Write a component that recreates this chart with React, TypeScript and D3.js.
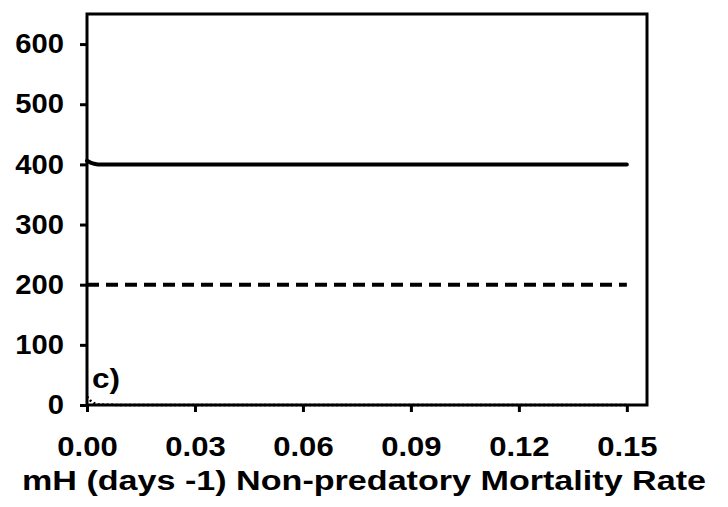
import React, { useEffect, useRef } from "react";
import * as d3 from "d3";

// mH values (days -1)
const xValues = [0, 0.001, 0.002, 0.003, 0.005, 0.01, 0.02, 0.03, 0.04, 0.05, 0.06, 0.07, 0.08, 0.09, 0.1, 0.11, 0.12, 0.13, 0.14, 0.15];
// solid line
const solidSeries = [406, 403, 401, 400, 400, 400, 400, 400, 400, 400, 400, 400, 400, 400, 400, 400, 400, 400, 400, 400];
// dashed line
const dashedSeries = [200, 200, 200, 200, 200, 200, 200, 200, 200, 200, 200, 200, 200, 200, 200, 200, 200, 200, 200, 200];
// dotted line
const dottedSeries = [14, 7, 3, 1, 0.5, 0, 0, 0, 0, 0, 0, 0, 0, 0, 0, 0, 0, 0, 0, 0];

const xTicks = [0, 0.03, 0.06, 0.09, 0.12, 0.15];
const yTicks = [0, 100, 200, 300, 400, 500, 600];

const App = () => {
  const ref = useRef<SVGSVGElement>(null);

  useEffect(() => {
    const svg = d3.select(ref.current);
    svg.selectAll("*").remove();

    const left = 87, right = 647, top = 14, bottom = 405;
    const x = d3.scaleLinear().domain([0, 0.1556]).range([left, right]);
    const y = d3.scaleLinear().domain([0, 650]).range([bottom, top]);
    const font = "'Liberation Sans', Arial, sans-serif";

    const line = d3
      .line<number>()
      .x((_, i) => x(xValues[i]))
      .y((d) => y(d));

    // frame
    svg
      .append("rect")
      .attr("x", left)
      .attr("y", top)
      .attr("width", right - left)
      .attr("height", bottom - top)
      .attr("fill", "none")
      .attr("stroke", "#000")
      .attr("stroke-width", 3);

    svg
      .append("path")
      .datum(dottedSeries)
      .attr("fill", "none")
      .attr("stroke", "#000")
      .attr("stroke-width", 2.5)
      .attr("stroke-dasharray", "2,2.5")
      .attr("d", line);

    svg
      .append("path")
      .datum(dashedSeries)
      .attr("fill", "none")
      .attr("stroke", "#000")
      .attr("stroke-width", 4)
      .attr("stroke-dasharray", "12,7")
      .attr("d", line);

    svg
      .append("path")
      .datum(solidSeries)
      .attr("fill", "none")
      .attr("stroke", "#000")
      .attr("stroke-width", 4)
      .attr("stroke-linecap", "round")
      .attr("d", line);

    // y axis
    const ySx = 1.08;
    const yAxis = svg
      .append("g")
      .attr("transform", `translate(${left},0)`)
      .call(d3.axisLeft(y).tickValues(yTicks).tickSize(7).tickPadding(16).tickFormat(d3.format("d")));
    yAxis.select(".domain").remove();
    yAxis.selectAll("line").attr("stroke", "#000").attr("stroke-width", 3);
    yAxis
      .selectAll("text")
      .attr("font-family", font)
      .attr("font-weight", "bold")
      .attr("font-size", 27)
      .attr("fill", "#000")
      .attr("x", -23 / ySx)
      .attr("transform", `scale(${ySx},1)`);

    // x axis
    const xSx = 1.15;
    const xAxis = svg
      .append("g")
      .attr("transform", `translate(0,${bottom})`)
      .call(d3.axisBottom(x).tickValues(xTicks).tickSize(7).tickPadding(25).tickFormat(d3.format(".2f")));
    xAxis.select(".domain").remove();
    xAxis.selectAll("line").attr("stroke", "#000").attr("stroke-width", 3);
    xAxis
      .selectAll("text")
      .attr("font-family", font)
      .attr("font-weight", "bold")
      .attr("font-size", 27)
      .attr("fill", "#000")
      .attr("transform", `scale(${xSx},1)`);

    svg
      .append("text")
      .attr("x", 364)
      .attr("y", 490)
      .attr("text-anchor", "middle")
      .attr("font-family", font)
      .attr("font-weight", "bold")
      .attr("font-size", 27)
      .attr("textLength", 684)
      .attr("lengthAdjust", "spacingAndGlyphs")
      .text("mH (days -1) Non-predatory Mortality Rate");

    svg
      .append("text")
      .attr("x", 92)
      .attr("y", 388)
      .attr("font-family", font)
      .attr("font-weight", "bold")
      .attr("font-size", 28)
      .attr("textLength", 28)
      .attr("lengthAdjust", "spacingAndGlyphs")
      .text("c)");
  }, []);

  return (
    <svg
      ref={ref}
      width={728}
      height={507}
      style={{ position: "absolute", left: 0, top: 0, background: "#fff" }}
    />
  );
};

export default App;
